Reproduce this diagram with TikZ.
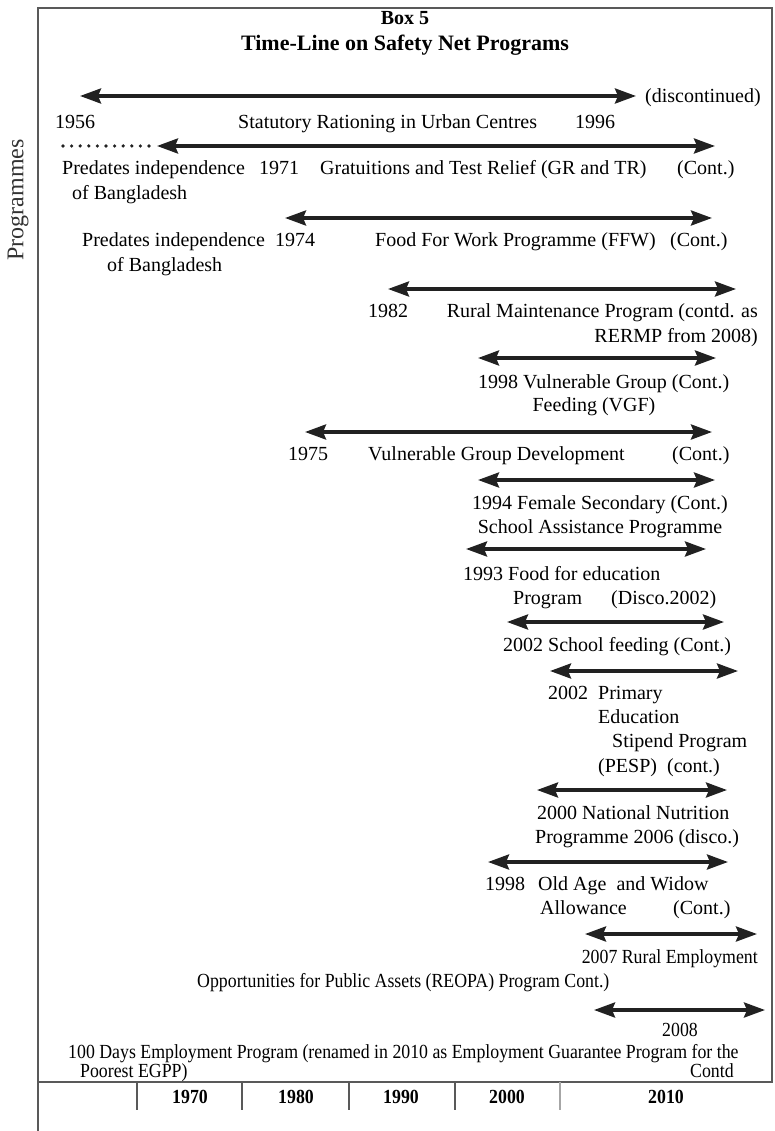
\documentclass[tikz,border=0pt]{standalone}
\usepackage{fontspec}
\setmainfont{Liberation Serif}
\newfontfamily\narrowfont[FakeStretch=0.89]{Liberation Serif}
\usepackage{tikz}
\usetikzlibrary{arrows.meta}
\definecolor{framegray}{rgb}{0.35,0.35,0.35}
\definecolor{inkblack}{rgb}{0.13,0.13,0.13}

\begin{document}
\begin{tikzpicture}[x=1pt, y=-1pt,
    lbl/.style={inner sep=0pt, anchor=west, yshift=-2pt, text height=13pt, text depth=4pt, font=\fontsize{20}{24}\selectfont},
    nlbl/.style={lbl, font=\fontsize{20}{24}\selectfont\narrowfont},
    yearlbl/.style={inner sep=0pt, font=\fontsize{20}{24}\selectfont\narrowfont\bfseries},
    arrow/.style={{Stealth[length=21pt,width=15pt,inset=3pt]}-{Stealth[length=21pt,width=15pt,inset=3pt]}, line width=3.5pt, draw=inkblack},
    frame/.style={draw=framegray, line width=1.5pt}
]
\useasboundingbox (0,0) rectangle (775,1131);

% box and time axis
\draw[frame] (38,1131) -- (38,8) -- (772,8) -- (772,1082) -- (38,1082);
\draw[frame] (137,1082) -- (137,1110);
\draw[frame] (242,1082) -- (242,1110);
\draw[frame] (349,1082) -- (349,1110);
\draw[frame] (455,1082) -- (455,1110);
\draw[frame, draw=black!35] (560,1082) -- (560,1110);
\node[yearlbl] (d1970) at (190,1097) {1970};
\node[yearlbl] (d1980) at (296,1097) {1980};
\node[yearlbl] (d1990) at (401,1097) {1990};
\node[yearlbl] (d2000) at (507,1097) {2000};
\node[yearlbl] (d2010) at (666,1097) {2010};
\node[rotate=90, inner sep=0pt, text=black!80, font=\fontsize{24}{28}\selectfont] (ylab) at (18,200) {Programmes};

% title
\node[inner sep=0pt, font=\fontsize{20}{24}\selectfont\bfseries] (boxno) at (405,18) {Box 5};
\node[inner sep=0pt, font=\fontsize{22}{26}\selectfont\bfseries] (title) at (405,45) {Time-Line on Safety Net Programs};

% statutory rationing
\coordinate (sr1) at (80,96);
\coordinate (sr2) at (636,96);
\draw[arrow] (sr1) -- (sr2);
\node[lbl] (srdisc) at (645,96) {(discontinued)};
\node[lbl] (sry1) at (55,122) {1956};
\node[lbl] (srtxt) at (238,122) {Statutory Rationing in Urban Centres};
\node[lbl] (sry2) at (575,122) {1996};

% GR and TR
\coordinate (gr0) at (63,146);
\coordinate (gr1) at (157,146);
\coordinate (gr2) at (715,146);
\draw[line width=3.6pt, line cap=round, dash pattern=on 0pt off 8.6pt, draw=inkblack] (gr0) -- (gr1);
\draw[arrow] (gr1) -- (gr2);
\node[lbl] (grpre) at (62,168) {Predates independence};
\node[lbl] (grpre2) at (72,193) {of Bangladesh};
\node[lbl] (gry) at (259,168) {1971};
\node[lbl] (grtxt) at (320,168) {Gratuitions and Test Relief (GR and TR)};
\node[lbl] (grcont) at (677,168) {(Cont.)};

% FFW
\coordinate (ffw1) at (285,218);
\coordinate (ffw2) at (712,218);
\draw[arrow] (ffw1) -- (ffw2);
\node[lbl] (ffwpre) at (82,240) {Predates independence};
\node[lbl] (ffwpre2) at (107,265) {of Bangladesh};
\node[lbl] (ffwy) at (275,240) {1974};
\node[lbl] (ffwtxt) at (375,240) {Food For Work Programme (FFW)};
\node[lbl] (ffwcont) at (670,240) {(Cont.)};

% rural maintenance
\coordinate (rmp1) at (388,289);
\coordinate (rmp2) at (736,289);
\draw[arrow] (rmp1) -- (rmp2);
\node[lbl] (rmpy) at (368,311) {1982};
\node[lbl, anchor=east] (rmptxt) at (758,311) {Rural Maintenance Program (contd. as};
\node[lbl, anchor=east] (rmptxt2) at (758,336) {RERMP from 2008)};

% VGF
\coordinate (vgf1) at (478,358);
\coordinate (vgf2) at (716,358);
\draw[arrow] (vgf1) -- (vgf2);
\node[lbl] (vgftxt) at (478,382) {1998 Vulnerable Group (Cont.)};
\node[lbl, anchor=center] (vgftxt2) at (594,405) {Feeding (VGF)};

% VGD
\coordinate (vgd1) at (305,432);
\coordinate (vgd2) at (712,432);
\draw[arrow] (vgd1) -- (vgd2);
\node[lbl] (vgdy) at (288,454) {1975};
\node[lbl] (vgdtxt) at (368,454) {Vulnerable Group Development};
\node[lbl] (vgdcont) at (672,454) {(Cont.)};

% female secondary
\coordinate (fss1) at (478,480);
\coordinate (fss2) at (715,480);
\draw[arrow] (fss1) -- (fss2);
\node[lbl] (fsstxt) at (472,503) {1994 Female Secondary (Cont.)};
\node[lbl, anchor=center] (fsstxt2) at (600,527) {School Assistance Programme};

% food for education
\coordinate (ffe1) at (466,549);
\coordinate (ffe2) at (706,549);
\draw[arrow] (ffe1) -- (ffe2);
\node[lbl] (ffetxt) at (463,574) {1993 Food for education};
\node[lbl] (ffetxt2) at (513,598) {Program};
\node[lbl] (ffedisc) at (611,598) {(Disco.2002)};

% school feeding
\coordinate (sf1) at (507,622);
\coordinate (sf2) at (724,622);
\draw[arrow] (sf1) -- (sf2);
\node[lbl] (sftxt) at (503,645) {2002 School feeding (Cont.)};

% PESP
\coordinate (pesp1) at (550,671);
\coordinate (pesp2) at (738,671);
\draw[arrow] (pesp1) -- (pesp2);
\node[lbl] (pespy) at (548,693) {2002};
\node[lbl] (pesptxt) at (598,693) {Primary};
\node[lbl] (pesptxt2) at (598,717) {Education};
\node[lbl] (pesptxt3) at (612,741) {Stipend Program};
\node[lbl] (pesptxt4) at (598,766) {(PESP)\ \ (cont.)};

% national nutrition
\coordinate (nnp1) at (537,790);
\coordinate (nnp2) at (727,790);
\draw[arrow] (nnp1) -- (nnp2);
\node[lbl] (nnptxt) at (537,813) {2000 National Nutrition};
\node[lbl] (nnptxt2) at (535,837) {Programme 2006 (disco.)};

% old age and widow
\coordinate (oaw1) at (488,862);
\coordinate (oaw2) at (728,862);
\draw[arrow] (oaw1) -- (oaw2);
\node[lbl] (oawy) at (485,884) {1998};
\node[lbl] (oawtxt) at (538,884) {Old Age\ \ and Widow};
\node[lbl] (oawtxt2) at (540,908) {Allowance};
\node[lbl] (oawcont) at (673,908) {(Cont.)};

% REOPA
\coordinate (reo1) at (585,934);
\coordinate (reo2) at (757,934);
\draw[arrow] (reo1) -- (reo2);
\node[nlbl, anchor=east] (reotxt) at (758,957) {2007 Rural Employment};
\node[nlbl] (reotxt2) at (197,981) {Opportunities for Public Assets (REOPA) Program Cont.)};

% 100 days / EGPP
\coordinate (egp1) at (594,1010);
\coordinate (egp2) at (765,1010);
\draw[arrow] (egp1) -- (egp2);
\node[nlbl] (egpy) at (662,1030) {2008};
\node[nlbl] (egptxt) at (68,1052) {100 Days Employment Program (renamed in 2010 as Employment Guarantee Program for the};
\node[nlbl] (egptxt2) at (80,1071) {Poorest EGPP)};
\node[nlbl] (egpcont) at (690,1071) {Contd};

\end{tikzpicture}
\end{document}
